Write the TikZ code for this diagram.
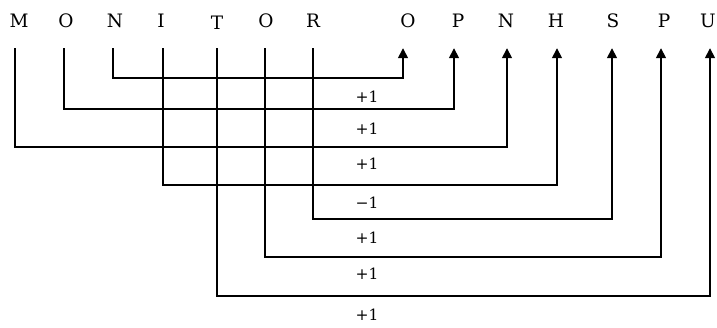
\documentclass[tikz,border=0pt]{standalone}
\usepackage{fontspec}
\setmainfont{DejaVu Serif}
\usetikzlibrary{arrows.meta}
\begin{document}
\begin{tikzpicture}[x=1pt,y=-1pt,
  letter/.style={font=\fontsize{18.5}{22}\selectfont, inner sep=0pt, text height=14pt, text depth=0pt, anchor=base},
  val/.style={font=\fontsize{15.5}{18}\selectfont, inner sep=0pt, text height=12pt, text depth=0pt},
  link/.style={line width=1.5pt, shorten <=21pt, shorten >=21pt, -{Triangle[width=10pt,length=10pt]}},
]
\useasboundingbox (0,0) rectangle (717,327);
% source word
\node[letter] (m)  at (19,27)  {M};
\node[letter] (o1) at (66,27)  {O};
\node[letter] (n1) at (115,27) {N};
\node[letter] (i)  at (161,27) {I};
\node[letter] (t)  at (217,27) {\raisebox{-2.5pt}{T}};
\node[letter] (o2) at (266,27) {O};
\node[letter] (r)  at (313,27) {R};
% coded word
\node[letter] (o3) at (408,27) {O};
\node[letter] (p1) at (458,27) {P};
\node[letter] (n2) at (506,27) {N};
\node[letter] (h)  at (556,27) {H};
\node[letter] (s)  at (613,27) {S};
\node[letter] (p2) at (664,27) {P};
\node[letter] (u)  at (708,27) {U};
% connectors
\draw[link] ([xshift=-2pt]n1.south) -- ++(0,51)  -| ([xshift=-5pt]o3.south);
\draw[link] ([xshift=-2pt]o1.south) -- ++(0,82)  -| ([xshift=-4pt]p1.south);
\draw[link] ([xshift=-4pt]m.south)  -- ++(0,120) -| ([xshift=1pt]n2.south);
\draw[link] ([xshift=2pt]i.south)   -- ++(0,158) -| ([xshift=1pt]h.south);
\draw[link] (r.south)               -- ++(0,192) -| ([xshift=-1pt]s.south);
\draw[link] ([xshift=-1pt]o2.south) -- ++(0,230) -| ([xshift=-3pt]p2.south);
\draw[link] (t.south)               -- ++(0,269) -| ([xshift=2pt]u.south);
% values
\node[val] (v1) at (367,96)  {+1};
\node[val] (v2) at (367,128) {+1};
\node[val] (v3) at (367,163) {+1};
\node[val] (v4) at (367,202) {−1};
\node[val] (v5) at (367,237) {+1};
\node[val] (v6) at (367,273) {+1};
\node[val] (v7) at (367,314) {+1};
\end{tikzpicture}
\end{document}
